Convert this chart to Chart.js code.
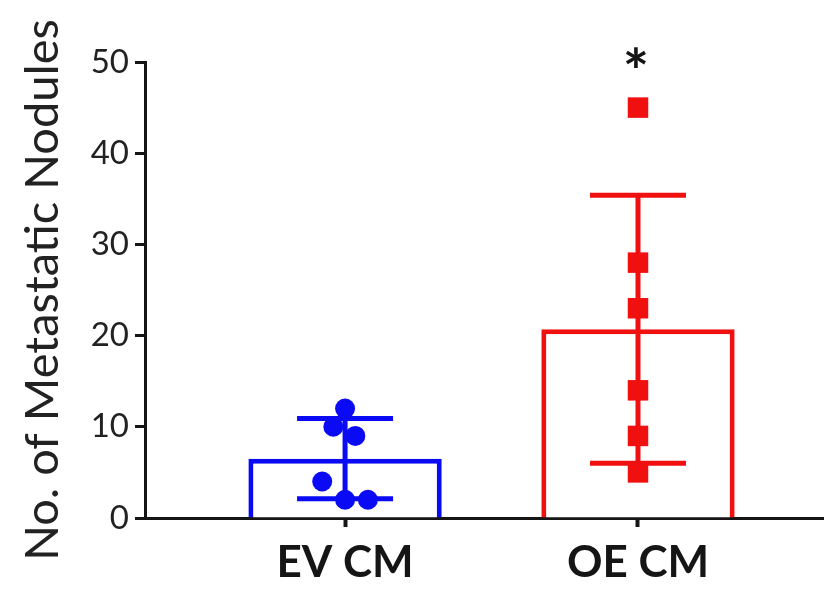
<!DOCTYPE html>
<html>
<head>
<meta charset="utf-8">
<title>Metastatic Nodules</title>
<script src="https://cdn.jsdelivr.net/npm/chart.js@4.4.1/dist/chart.umd.min.js"></script>
<style>
    html, body { margin: 0; padding: 0; background: #ffffff; overflow: hidden; }
    #wrap { width: 824px; height: 595px; position: relative; }
</style>
</head>
<body>
<div id="wrap"><canvas id="chart"></canvas></div>
<script>
// Groups and values
const categories = ['EV CM', 'OE CM'];
const groupMeans = [6.5, 20.7];
const groupSD = [4.4, 14.7];
const evValues = [12, 10, 9, 4, 2, 2];
const evJitter = [0, -0.04, 0.035, -0.078, 0, 0.078];
const oeValues = [45, 28, 23, 14, 9, 5];
const oeJitter = [0, 0, 0, 0, 0, 0];
const yTicks = [0, 10, 20, 30, 40, 50];
const significance = ['', '*'];

const blue = '#0a0af5';
const red = '#f01010';
const ink = '#151515';

const toPoints = (vals, jit, center) => vals.map((v, i) => ({ x: center + jit[i], y: v }));

// Error bars drawn right after the bars, so the dots sit on top
const errorBars = {
    id: 'errorBars',
    afterDatasetDraw(chart, args) {
        if (args.meta.type !== 'bar') return;
        const ctx = chart.ctx;
        const xs = chart.scales.x, ys = chart.scales.y;
        const colorsBy = [blue, red];
        ctx.save();
        groupMeans.forEach((m, i) => {
            const cx = xs.getPixelForValue(i);
            const top = ys.getPixelForValue(m + groupSD[i]);
            const bot = ys.getPixelForValue(m - groupSD[i]);
            ctx.strokeStyle = colorsBy[i];
            ctx.lineWidth = 5;
            ctx.beginPath();
            ctx.moveTo(cx, top); ctx.lineTo(cx, bot);
            ctx.moveTo(cx - 48, top); ctx.lineTo(cx + 48, top);
            ctx.moveTo(cx - 48, bot); ctx.lineTo(cx + 48, bot);
            ctx.stroke();
        });
        ctx.restore();
    },
    afterDraw(chart) {
        const ctx = chart.ctx;
        const xs = chart.scales.x, ys = chart.scales.y;
        ctx.save();
        ctx.fillStyle = ink;
        ctx.font = 'bold 62px Lato';
        ctx.textAlign = 'center';
        ctx.textBaseline = 'middle';
        significance.forEach((s, i) => {
            if (!s) return;
            ctx.fillText(s, xs.getPixelForValue(i) - 2, ys.getPixelForValue(50) + 12);
        });
        ctx.restore();
    }
};

new Chart(document.getElementById('chart'), {
    type: 'bar',
    data: {
        datasets: [
            {
                type: 'scatter',
                data: toPoints(evValues, evJitter, 0),
                pointStyle: 'circle',
                pointRadius: 10,
                pointHoverRadius: 10,
                backgroundColor: blue,
                borderColor: blue,
                borderWidth: 0,
                order: 1,
                clip: false
            },
            {
                type: 'scatter',
                data: toPoints(oeValues, oeJitter, 1),
                pointStyle: 'rect',
                pointRadius: 14.5,
                pointHoverRadius: 14.5,
                backgroundColor: red,
                borderColor: red,
                borderWidth: 0,
                order: 1,
                clip: false
            },
            {
                type: 'bar',
                data: groupMeans.map((m, i) => ({ x: i, y: m })),
                backgroundColor: '#ffffff',
                borderColor: [blue, red],
                borderWidth: 5,
                barPercentage: 0.66,
                categoryPercentage: 1,
                order: 3
            }
        ]
    },
    options: {
        responsive: true,
        maintainAspectRatio: false,
        animation: false,
        layout: { autoPadding: false, padding: { top: 62, right: 0, bottom: 0, left: 0 } },
        plugins: {
            legend: { display: false },
            tooltip: { enabled: false }
        },
        scales: {
            x: {
                type: 'linear',
                offset: false,
                min: -0.683,
                max: 1.635,
                afterBuildTicks: axis => { axis.ticks = categories.map((c, i) => ({ value: i })); },
                afterFit: axis => {
                    axis.height = 77;
                    axis.paddingLeft = 0;
                    axis.paddingRight = 0;
                },
                ticks: {
                    autoSkip: false,
                    maxRotation: 0,
                    padding: 9,
                    color: ink,
                    font: { family: 'Lato', size: 44, weight: 'bold' },
                    callback: v => categories[v] ?? ''
                },
                grid: { offset: false, drawOnChartArea: false, tickLength: 9, tickWidth: 4, tickColor: ink },
                border: { color: ink, width: 3 }
            },
            y: {
                min: 0,
                max: 50,
                afterBuildTicks: axis => { axis.ticks = yTicks.map(v => ({ value: v })); },
                afterFit: axis => { axis.width = 145; },
                ticks: {
                    padding: 6,
                    color: '#222',
                    font: { family: 'Lato', size: 33 }
                },
                grid: { drawOnChartArea: false, tickLength: 10, tickWidth: 3, tickColor: ink },
                border: { color: ink, width: 3 },
                title: {
                    display: true,
                    text: 'No. of Metastatic Nodules',
                    color: '#222',
                    font: { family: 'Lato', size: 47 },
                    padding: { top: 15, bottom: 0 }
                }
            }
        }
    },
    plugins: [errorBars]
});
</script>
</body>
</html>
